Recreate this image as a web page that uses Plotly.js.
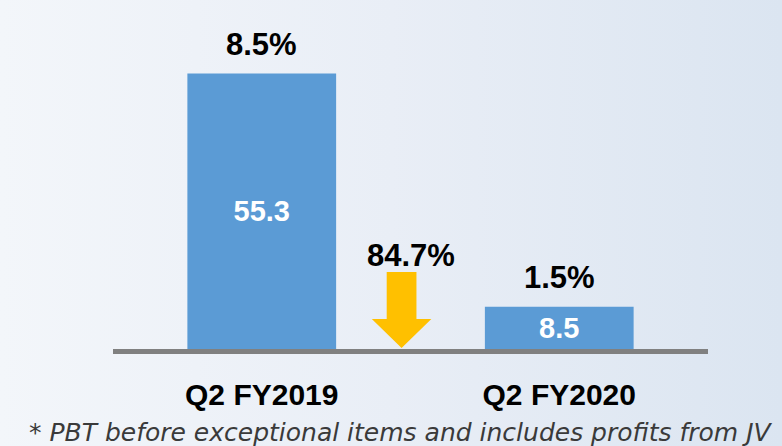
<!DOCTYPE html>
<html>
<head>
<meta charset="utf-8">
<script src="https://cdn.plot.ly/plotly-3.0.1.min.js"></script>
<style>
  html, body { margin: 0; padding: 0; }
  body { width: 782px; height: 446px; overflow: hidden;
         background: linear-gradient(90deg, #f3f6fa 0%, #e9eef6 50%, #dbe5f1 100%); }
  #chart { width: 782px; height: 446px; }
</style>
</head>
<body>
<div id="chart"></div>
<script>
const categories = ["Q2 FY2019", "Q2 FY2020"];
const pbtValues = [55.3, 8.5];
const marginLabels = ["8.5%", "1.5%"];
const changeLabel = "84.7%";
const footnote = "* PBT before exceptional items and includes profits from JV";

const xPos = categories.map((c, i) => i);
const boldFont = "Liberation Sans, Arial, sans-serif";

const trace = {
  type: "bar",
  x: xPos,
  y: pbtValues,
  width: 0.5,
  marker: { color: "#5b9bd5" },
  text: pbtValues.map(v => v.toFixed(1)),
  textposition: "inside",
  insidetextanchor: "middle",
  constraintext: "none",
  textfont: { family: boldFont, size: 29, color: "#ffffff", weight: "bold" },
  hoverinfo: "skip",
  cliponaxis: false
};

const annotations = marginLabels.map((t, i) => ({
  x: xPos[i], y: pbtValues[i], xref: "x", yref: "y",
  text: "<b>" + t + "</b>", showarrow: false,
  yanchor: "middle", yshift: 29,
  font: { family: boldFont, size: 31, color: "#000000" }
}));

annotations.push({
  x: 0.5, y: 15.45, xref: "x", yref: "y",
  text: "<b>" + changeLabel + "</b>", showarrow: false,
  yanchor: "middle", yshift: 17,
  font: { family: boldFont, size: 31, color: "#000000" }
});

annotations.push({
  x: -0.1445, y: -0.278, xref: "paper", yref: "paper",
  xanchor: "left", yanchor: "middle",
  text: "<i>" + footnote + "</i>", showarrow: false,
  font: { family: "DejaVu Sans", size: 25, color: "#3a3a3a" }
});

// down arrow (decorative) in data coordinates
const ax = 0.47, sw = 0.05, hw = 0.1, yTop = 15.45, yHead = 6.0, yTip = 0.2;
const arrowPath = `M ${ax - sw} ${yTop} L ${ax + sw} ${yTop} L ${ax + sw} ${yHead} L ${ax + hw} ${yHead} L ${ax} ${yTip} L ${ax - hw} ${yHead} L ${ax - sw} ${yHead} Z`;

const layout = {
  width: 782, height: 446,
  margin: { l: 113, r: 74, t: 50, b: 97 },
  paper_bgcolor: "rgba(0,0,0,0)",
  plot_bgcolor: "rgba(0,0,0,0)",
  showlegend: false,
  xaxis: {
    type: "linear", range: [-0.5, 1.5],
    tickvals: xPos, ticktext: categories,
    showgrid: false, zeroline: false,
    showline: true, linecolor: "#808080", linewidth: 5,
    ticks: "", ticklabelstandoff: 15,
    tickfont: { family: boldFont, size: 30, color: "#000000", weight: "bold" }
  },
  yaxis: {
    range: [0, 60], visible: false, showgrid: false, zeroline: false
  },
  shapes: [{
    type: "path", xref: "x", yref: "y", path: arrowPath,
    fillcolor: "#ffc000", line: { width: 0 }, layer: "above"
  }],
  annotations: annotations
};

Plotly.newPlot("chart", [trace], layout, { staticPlot: true, displayModeBar: false });
</script>
</body>
</html>
